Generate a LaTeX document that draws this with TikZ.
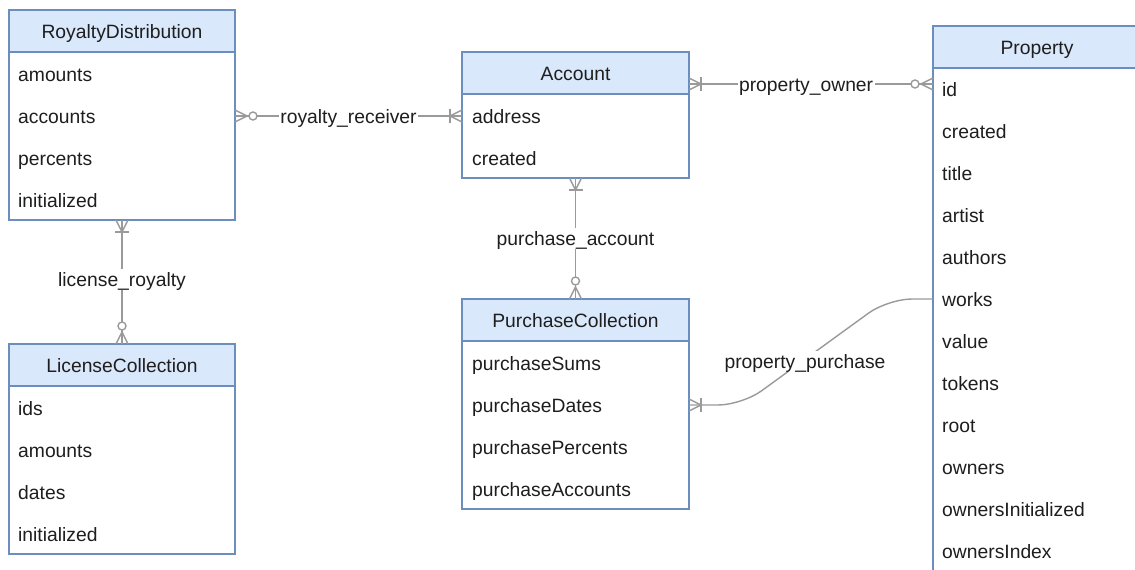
\documentclass[tikz,border=0pt]{standalone}
\usepackage{fontspec}
\setmainfont{Liberation Sans}
\usetikzlibrary{calc}
\definecolor{entline}{HTML}{6C8EBF}
\definecolor{entfill}{HTML}{DAE8FC}
\definecolor{relline}{HTML}{9A9A9A}
\definecolor{txt}{HTML}{1E1E1E}
\begin{document}
\begin{tikzpicture}[x=1pt,y=-1pt,
  font=\fontsize{19.3}{23}\selectfont,
  hdr/.style={draw=entline, fill=entfill, line width=1.2pt, anchor=north west,
    minimum height=42, inner sep=0, outer sep=0, text=txt, text height=16, text depth=2},
  bodybox/.style={draw=entline, fill=white, line width=1.2pt, anchor=north west,
    inner sep=0, outer sep=0},
  field/.style={anchor=west, inner sep=0, text=txt, text height=16, text depth=2},
  rel/.style={draw=relline, line width=1.4pt},
  lbl/.style={fill=white, inner sep=1.5, text=txt, text height=16, text depth=2},
  onemany/.pic={\draw[rel] (0,6) -- (12,0) -- (0,-6); \draw[rel] (12,7) -- (12,-7);},
  zeromany/.pic={\draw[rel] (0,6) -- (12,0) -- (0,-6); \draw[rel, fill=white] (18,0) circle[radius=4];}]
\useasboundingbox (0,0) rectangle (1135,570);
\clip (0,0) rectangle (1135,570);
\fill[white] (0,0) rectangle (1135,570);

% RoyaltyDistribution
\node[hdr, minimum width=226] (rdh) at (9,10) {RoyaltyDistribution};
\node[bodybox, minimum width=226, minimum height=168] (rd) at (9,52) {};
\foreach \t [count=\i] in {amounts,accounts,percents,initialized}
  \node[field] (rd-\i) at (18,32+42*\i) {\t};

% LicenseCollection
\node[hdr, minimum width=226] (lch) at (9,344) {LicenseCollection};
\node[bodybox, minimum width=226, minimum height=168] (lc) at (9,386) {};
\foreach \t [count=\i] in {ids,amounts,dates,initialized}
  \node[field] (lc-\i) at (18,366+42*\i) {\t};

% Account
\node[hdr, minimum width=227] (acch) at (462,52) {Account};
\node[bodybox, minimum width=227, minimum height=84] (acc) at (462,94) {};
\foreach \t [count=\i] in {address,created}
  \node[field] (acc-\i) at (472,74+42*\i) {\t};

% PurchaseCollection
\node[hdr, minimum width=227] (pch) at (462,299) {PurchaseCollection};
\node[bodybox, minimum width=227, minimum height=168] (pc) at (462,341) {};
\foreach \t [count=\i] in {purchaseSums,purchaseDates,purchasePercents,purchaseAccounts}
  \node[field] (pc-\i) at (472,321+42*\i) {\t};

% Property
\node[hdr, minimum width=208] (proph) at (933,26) {Property};
\node[bodybox, minimum width=208, minimum height=520] (prop) at (933,68) {};
\foreach \t [count=\i] in {id,created,title,artist,authors,works,value,tokens,root,owners,ownersInitialized,ownersIndex}
  \node[field] (pr-\i) at (942,47+42*\i) {\t};

% Relationships
\coordinate (poA) at ($(acch.south east)+(0,-10)$);
\coordinate (poB) at (prop.west |- poA);

\draw[rel] (rd.east |- rd-2) -- node[lbl] (rrlbl) {royalty\_receiver} (acc.west |- acc-1);
\pic[rotate=0] at (rd.east |- rd-2) {zeromany};
\pic[rotate=180] at (acc.west |- acc-1) {onemany};

\draw[rel] (poA) -- node[lbl, pos=0.48] (polbl) {property\_owner} (poB);
\pic[rotate=0] at (poA) {onemany};
\pic[rotate=180] at (poB) {zeromany};

\draw[rel] (acc.south) -- node[lbl] (palbl) {purchase\_account} (pch.north);
\pic[rotate=-90] at (acc.south) {onemany};
\pic[rotate=90] at (pch.north) {zeromany};

\draw[rel] (rd.south) -- node[lbl, pos=0.48] (lrlbl) {license\_royalty} (lch.north);
\pic[rotate=-90] at (rd.south) {onemany};
\pic[rotate=90] at (lch.north) {zeromany};

\draw[rel, rounded corners=24] (prop.west |- pr-6) -- ($(prop.west |- pr-6)+(-45,0)$)
  -- ($(pc.east |- pc-2)+(53,0)$) -- (pc.east |- pc-2);
\pic[rotate=0] at (pc.east |- pc-2) {onemany};
\node[lbl] (pplbl) at (805,361) {property\_purchase};
\end{tikzpicture}
\end{document}
